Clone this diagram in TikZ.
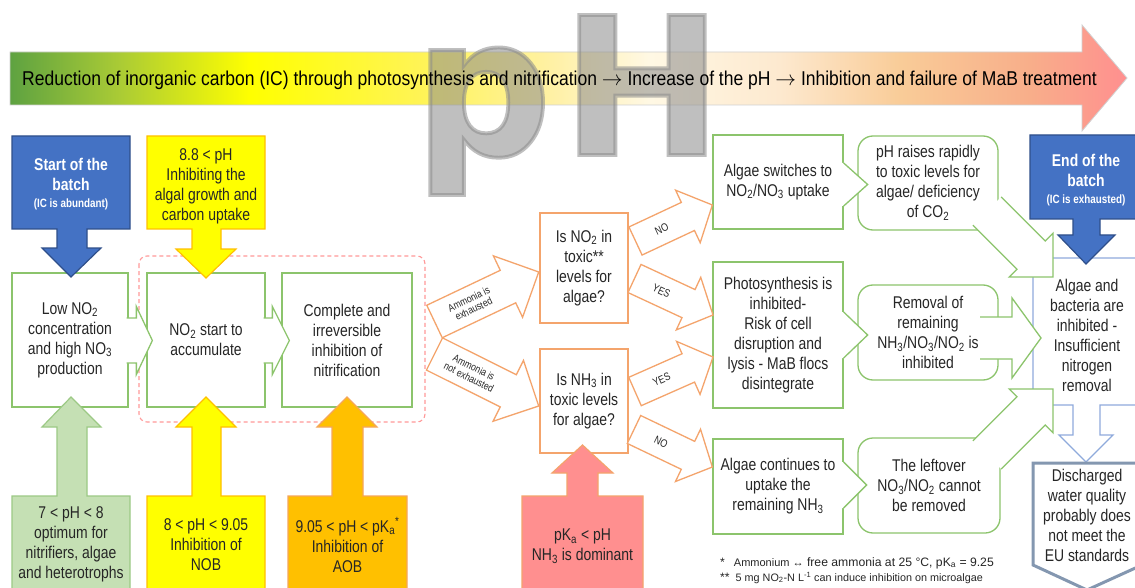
\documentclass[tikz,border=0pt]{standalone}
\usepackage{fontspec}
\setmainfont{Liberation Sans}[FakeStretch=0.82]
\newfontfamily\bannerfont{Liberation Sans}[FakeStretch=0.875]
\newfontfamily\fnfont{Liberation Sans}
\newfontfamily\phfont{DejaVu Sans}[UprightFont={* Bold},FakeBold=2]
\usetikzlibrary{calc}
\definecolor{txtc}{HTML}{262626}
\definecolor{grn}{HTML}{8CC46C}
\definecolor{org}{HTML}{F4A46C}
\definecolor{bluef}{HTML}{4472C4}
\definecolor{bluel}{HTML}{2F4F8A}
\definecolor{yelf}{HTML}{FFFF00}
\definecolor{yell}{HTML}{FFC000}
\definecolor{orf}{HTML}{FFC000}
\definecolor{orl}{HTML}{F5A65B}
\definecolor{grf}{HTML}{C5E0B4}
\definecolor{grl}{HTML}{9CC985}
\definecolor{pkf}{HTML}{FF8F8F}
\definecolor{pkl}{HTML}{F4A46C}
\definecolor{lbl}{HTML}{8FAADC}
\definecolor{dsl}{HTML}{8497B0}
\definecolor{dashpink}{HTML}{FF9999}
\definecolor{phg}{HTML}{8B8B8B}
\definecolor{bA}{HTML}{5EA241}
\definecolor{bB}{HTML}{AACB35}
\definecolor{bC}{HTML}{FFFF00}
\definecolor{bD}{HTML}{FFF455}
\definecolor{bE}{HTML}{FFF1A8}
\definecolor{bF}{HTML}{FFF8E4}
\definecolor{bG}{HTML}{FDE9CF}
\definecolor{bH}{HTML}{F9CC98}
\definecolor{bI}{HTML}{F8AE8A}
\definecolor{bJ}{HTML}{FF8F8F}
\pgfdeclarehorizontalshading{bannershade}{100bp}{color(0bp)=(bA); color(25bp)=(bA); color(29.9bp)=(bB); color(35.75bp)=(bC); color(43.35bp)=(bD); color(49.5bp)=(bE); color(53.65bp)=(bF); color(59.45bp)=(bG); color(64.85bp)=(bH); color(70.65bp)=(bI); color(75bp)=(bJ); color(100bp)=(bJ)}

\newcommand\blkpts[5]{%
  \coordinate (q0) at ($(#2)!#5!(#1)$);
  \coordinate (q1) at ($(#1)!#3!90:(#2)$);
  \coordinate (q2) at ($(q0)!#3!90:(#2)$);
  \coordinate (q3) at ($(q0)!#4!90:(#2)$);
  \coordinate (q4) at ($(q0)!#4!-90:(#2)$);
  \coordinate (q5) at ($(q0)!#3!-90:(#2)$);
  \coordinate (q6) at ($(#1)!#3!-90:(#2)$);
}
\newcommand\blkopen[6]{\blkpts{#2}{#3}{#4}{#5}{#6}%
  \fill[white] (q1)--(q2)--(q3)--(#3)--(q4)--(q5)--(q6)--cycle;
  \draw[#1] (q1)--(q2)--(q3)--(#3)--(q4)--(q5)--(q6);}
\newcommand\blkclosed[6]{\blkpts{#2}{#3}{#4}{#5}{#6}%
  \filldraw[fill=white,#1] (q1)--(q2)--(q3)--(#3)--(q4)--(q5)--(q6)--cycle;}
\newcommand\headarr[4]{%
  \coordinate (h1) at ($(#2)!#4!90:(#3)$);
  \coordinate (h2) at ($(#2)!#4!-90:(#3)$);
  \fill[white] ($(h1)+(-3,0)$)--(h1)--(#3)--(h2)--($(h2)+(-3,0)$)--cycle;
  \draw[#1] (h1)--(#3)--(h2);}

\tikzset{
  boxtxt/.style={font=\fontsize{17}{20}\selectfont, text=txtc, align=center},
  gbox/.style={draw=grn, line width=1.3pt, fill=white, inner sep=0pt, boxtxt},
  rbox/.style={gbox, rounded corners=15pt},
  dbox/.style={draw=org, line width=2.6pt, fill=white, inner sep=0pt, boxtxt},
  garr/.style={draw=grn, line width=1.3pt},
  oarr/.style={draw=org, line width=1.3pt},
  lab/.style={font=\fontsize{11}{11.5}\selectfont, text=txtc, align=center, sloped, inner sep=0pt},
  slab/.style={font=\fontsize{10.5}{11}\selectfont, text=txtc, align=center, sloped, inner sep=0pt},
  calltxt/.style={boxtxt, inner sep=0pt},
  whitetxt/.style={font=\bfseries\fontsize{17}{20}\selectfont, text=white, align=center, inner sep=0pt},
  fn/.style={font=\fnfont\fontsize{12.2}{14}\selectfont, text=txtc, inner sep=0pt},
}

\begin{document}
\begin{tikzpicture}[x=1pt,y=-1pt]
\useasboundingbox (0,0) rectangle (1135,588);
\clip (0,0) rectangle (1135,588);
\fill[white] (0,0) rectangle (1135,588);

% banner arrow
\path[shading=bannershade, draw=black!18, line width=0.8pt]
  (10,52) -- (1082,52) -- (1082,25) -- (1127,78) -- (1082,131) -- (1082,105) -- (10,105) -- cycle;
\node[anchor=base west, text=phg, opacity=0.55, text opacity=0.55, inner sep=0pt] (ph) at (414,155)
  {\phfont\fontsize{192}{192}\selectfont p\kern10pt H};
\node[anchor=base west, inner sep=0pt, text=black, font=\bannerfont\fontsize{20}{22}\selectfont] (banner) at (22,86)
  {Reduction of inorganic carbon (IC) through photosynthesis and nitrification $\rightarrow$ Increase of the pH $\rightarrow$ Inhibition and failure of MaB treatment};

% left boxes
\draw[dashpink, line width=1.1pt, dash pattern=on 4pt off 3pt, rounded corners=8pt] (139,256) rectangle (425,422);
\node[gbox, minimum width=116pt, minimum height=134pt] (A) at (70,340)
  {Low NO\textsubscript{2}\\concentration\\and high NO\textsubscript{3}\\production};
\node[gbox, minimum width=118pt, minimum height=134pt] (B) at (206,340)
  {NO\textsubscript{2} start to\\accumulate};
\node[gbox, minimum width=130pt, minimum height=134pt] (C) at (347,340)
  {Complete and\\irreversible\\inhibition of\\nitrification};

% callouts top
\draw[fill=bluef, draw=bluel, line width=1.2pt] (12,136) -- (130,136) -- (130,229) -- (87,229) -- (87,248) -- (101,248) -- (71,277) -- (42,248) -- (57,248) -- (57,229) -- (12,229) -- cycle;
\node[whitetxt] (start) at (71,184) {Start of the\\batch\\[-3pt]{\fontsize{12}{15}\selectfont (IC is abundant)}};
\draw[fill=yelf, draw=yell, line width=1.2pt] (147,136) -- (265,136) -- (265,229) -- (221,229) -- (221,249) -- (236,249) -- (206,278) -- (176,249) -- (192,249) -- (192,229) -- (147,229) -- cycle;
\node[calltxt] (t88) at (206,186) {8.8 < pH\\Inhibiting the\\algal growth and\\carbon uptake};

% callouts bottom
\draw[fill=grf, draw=grl, line width=1.2pt] (12,600) -- (12,496) -- (57,496) -- (57,427) -- (42,427) -- (71,397) -- (101,427) -- (87,427) -- (87,496) -- (130,496) -- (130,600);
\node[calltxt] (t78) at (71,544) {7 < pH < 8\\optimum for\\nitrifiers,  algae\\and heterotrophs};
\draw[fill=yelf, draw=yell, line width=1.2pt] (147,600) -- (147,496) -- (192,496) -- (192,427) -- (176,427) -- (206,397) -- (236,427) -- (221,427) -- (221,496) -- (265,496) -- (265,600);
\node[calltxt] (t8905) at (206,545) {8 < pH < 9.05\\Inhibition of\\NOB};
\draw[fill=orf, draw=orl, line width=1.2pt] (288,600) -- (288,496) -- (332,496) -- (332,427) -- (317,427) -- (347,397) -- (377,427) -- (363,427) -- (363,496) -- (407,496) -- (407,600);
\node[calltxt] (t905) at (347.5,545) {9.05 < pH < pK\textsubscript{a}\textsuperscript{*}\\Inhibition of\\AOB};

% arrows between left boxes
\coordinate (ab1) at ($(A.east)+(-2,0.5)$);
\coordinate (ab2) at ($(B.west)+(6,0.5)$);
\blkopen{garr}{ab1}{ab2}{22.5pt}{34pt}{16pt}
\coordinate (bc1) at ($(B.east)+(-2,0.5)$);
\coordinate (bc2) at ($(C.west)+(8,0.5)$);
\blkopen{garr}{bc1}{bc2}{22.5pt}{34pt}{17pt}

% decision boxes
\node[dbox, minimum width=88pt, minimum height=110pt] (D1) at (584,268)
  {Is NO\textsubscript{2} in\\toxic**\\levels  for\\algae?};
\node[dbox, minimum width=88pt, minimum height=104pt] (D2) at (584,401)
  {Is NH\textsubscript{3} in\\toxic levels\\for algae?};

% pink callout
\draw[fill=pkf, draw=pkl, line width=1.2pt] (522,600) -- (522,496) -- (567,496) -- (567,473) -- (552,473) -- (582.5,445) -- (613,473) -- (598,473) -- (598,496) -- (643,496) -- (643,600);
\node[calltxt] (tpk) at (582.5,546) {pK\textsubscript{a} < pH\\NH\textsubscript{3} is dominant};

% ammonia arrows
\coordinate (am1) at (434.5,321.5);
\coordinate (am1t) at ($(D1.west)+(0,4)$);
\blkclosed{oarr}{am1}{am1t}{18pt}{34pt}{34pt}
\path (am1) -- (q0) node[slab, midway] {Ammonia is\\exhausted};
\coordinate (am2) at (434.5,354);
\coordinate (am2t) at ($(D2.west)+(0,5)$);
\blkclosed{oarr}{am2}{am2t}{18pt}{34pt}{34pt}
\path (am2) -- (q0) node[slab, midway] {Ammonia is\\not exhausted};

% green boxes right
\node[gbox, minimum width=130pt, minimum height=94pt] (G1) at (778,182)
  {Algae switches to\\NO\textsubscript{2}/NO\textsubscript{3} uptake};
\node[gbox, minimum width=130pt, minimum height=146pt] (G2) at (778,335)
  {Photosynthesis is\\inhibited-\\Risk of cell\\disruption and\\lysis - MaB flocs\\disintegrate};
\node[gbox, minimum width=130pt, minimum height=95pt] (G3) at (778,486.5)
  {Algae continues to\\uptake the\\remaining NH\textsubscript{3}};
\node[rbox, minimum width=140pt, minimum height=94pt] (R1) at (928,183)
  {pH raises rapidly\\to toxic levels  for\\algae/ deficiency\\of CO\textsubscript{2}};
\node[rbox, minimum width=140pt, minimum height=95pt] (R2) at (928,332.5)
  {Removal of\\remaining\\NH\textsubscript{3}/NO\textsubscript{3}/NO\textsubscript{2} is\\inhibited};
\node[rbox, minimum width=142pt, minimum height=95pt] (R3) at (929,485.5)
  {The leftover\\NO\textsubscript{3}/NO\textsubscript{2} cannot\\be removed};

% YES / NO arrows
\coordinate (n1) at (635.5,241);
\coordinate (n1t) at ($(G1.west)+(0,23)$);
\blkclosed{oarr}{n1}{n1t}{15.5pt}{29pt}{27pt}
\path (n1) -- (q0) node[lab, midway] {NO};
\coordinate (y1) at (634.5,278.5);
\coordinate (y1t) at (713,315);
\blkclosed{oarr}{y1}{y1t}{15.5pt}{29pt}{27pt}
\path (y1) -- (q0) node[lab, midway] {YES};
\coordinate (y2) at (635,391.5);
\coordinate (y2t) at (713,357);
\blkclosed{oarr}{y2}{y2t}{15.5pt}{29pt}{27pt}
\path (y2) -- (q0) node[lab, midway] {YES};
\coordinate (n2) at (634,429.5);
\coordinate (n2t) at ($(G3.west)+(0,-19.5)$);
\blkclosed{oarr}{n2}{n2t}{15.5pt}{29pt}{27pt}
\path (n2) -- (q0) node[lab, midway] {NO};

% box E and discharged
\draw[draw=lbl, fill=white, line width=1.3pt] (1033,258) -- (1142,258) -- (1142,405) -- (1100,405) -- (1100,435) -- (1113,435) -- (1086,462) -- (1059,435) -- (1073,435) -- (1073,405) -- (1033,405) -- cycle;
\node[calltxt] (E) at (1087,335) {Algae and\\bacteria are\\inhibited -\\Insufficient\\nitrogen\\removal};
\draw[draw=dsl, fill=white, line width=3pt] (1033,463) -- (1142,463) -- (1142,565) -- (1087,590) -- (1033,565) -- cycle;
\node[calltxt] (disch) at (1087,515) {Discharged\\water quality\\probably does\\not meet the\\EU standards};

% head arrows between columns
\coordinate (g1t) at ($(G1.east)+(24,2.5)$);
\coordinate (g1b) at ($(G1.east)+(0,2.5)$);
\headarr{garr}{g1b}{g1t}{21.5pt}
\coordinate (g2t) at ($(G2.east)+(24,0)$);
\headarr{garr}{G2.east}{g2t}{23pt}
\coordinate (g3t) at ($(G3.east)+(23,-1.5)$);
\coordinate (g3b) at ($(G3.east)+(0,-1.5)$);
\headarr{garr}{g3b}{g3t}{23pt}

% big green arrows into E
\coordinate (e1) at (987,211);
\coordinate (e1t) at (1053,277);
\blkopen{garr}{e1}{e1t}{20pt}{31pt}{31pt}
\coordinate (e2) at (980,338);
\coordinate (e2t) at (1041,338);
\blkopen{garr}{e2}{e2t}{21pt}{40pt}{29pt}
\coordinate (e3) at (987,455);
\coordinate (e3t) at (1053,389);
\blkopen{garr}{e3}{e3t}{20pt}{31pt}{31pt}

% end of batch callout
\draw[fill=bluef, draw=bluel, line width=1.2pt] (1030,135) -- (1142,135) -- (1142,219) -- (1100,219) -- (1100,235) -- (1115,235) -- (1086,264) -- (1058,235) -- (1073,235) -- (1073,219) -- (1030,219) -- cycle;
\node[whitetxt] (endb) at (1086,180) {End of the\\batch\\[-3pt]{\fontsize{12}{15}\selectfont (IC is exhausted)}};

% footnotes
\node[fn, anchor=base west] (fn1) at (720,566) {*\hspace{9pt}{\fontsize{11}{12}\selectfont Ammonium ↔} free ammonia at 25 °C, pK\textsubscript{a} = 9.25};
\node[fn, anchor=base west] (fn2) at (720,581) {**\hspace{6pt}{\fontsize{10.8}{12}\selectfont 5 mg NO\textsubscript{2}-N L\textsuperscript{-1} can induce inhibition on microalgae}};
\end{tikzpicture}
\end{document}
